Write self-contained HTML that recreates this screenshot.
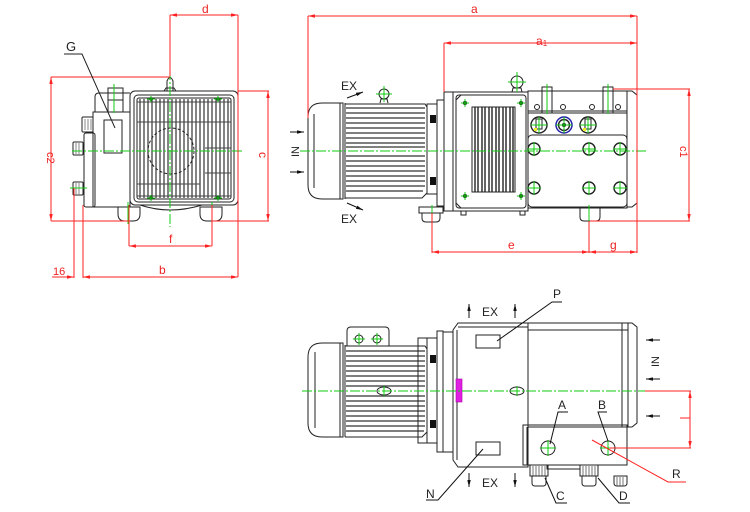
<!DOCTYPE html>
<html><head><meta charset="utf-8"><style>
html,body{margin:0;padding:0;background:#fff;}
svg{display:block;}
text{font-family:"Liberation Sans",sans-serif;}
</style></head><body>
<svg width="750" height="512" viewBox="0 0 750 512" xmlns="http://www.w3.org/2000/svg">
<defs>
<marker id="ar" viewBox="0 0 8 4" refX="8" refY="2" markerWidth="7" markerHeight="3.5" markerUnits="userSpaceOnUse" orient="auto-start-reverse"><path d="M0 0L8 2L0 4z" fill="#f22"/></marker>
<marker id="ab" viewBox="0 0 8 4" refX="8" refY="2" markerWidth="7" markerHeight="3.5" markerUnits="userSpaceOnUse" orient="auto-start-reverse"><path d="M0 0L8 2L0 4z" fill="#111"/></marker>
</defs>
<rect width="750" height="512" fill="#fff"/>

<!-- ================= LEFT VIEW ================= -->
<g fill="none" stroke="#222" stroke-width="1">
  <rect x="130" y="91" width="108" height="114" rx="5"/>
  <rect x="134" y="95" width="100" height="107" rx="4"/>
  <rect x="137" y="98" width="94" height="101" rx="2"/>
  <path stroke="#333" stroke-width="1.2" d="M140 99V198M144 99V198M148 99V198M152 99V198M156 99V198M160 99V198M164 99V198M168 99V198M172 99V198M176 99V198M180 99V198M184 99V198M188 99V198M192 99V198M196 99V198M200 99V198M204 99V198M208 99V198M212 99V198M216 99V198M220 99V198M224 99V198M228 99V198"/>
  <path stroke="#444" d="M137 102H231M137 122H231M137 184H200M205 148H231M205 173H231M137 196H231"/>
  <circle cx="171" cy="151" r="23" stroke-dasharray="3 2"/>
  <path d="M140 205Q170 215 202 205"/>
  <rect x="93" y="112" width="37" height="95"/>
  <path d="M95 112V97Q95 93 99 93H130"/>
  <rect x="108" y="88" width="15" height="24"/>
  <path d="M108 100H123"/>
  <rect x="84" y="133" width="11" height="74" rx="2"/>
  <rect x="82" y="117" width="11" height="15" rx="1"/>
  <path stroke="#555" stroke-width="0.7" d="M85 119V130M88 119V130M91 119V130"/>
  <rect x="73" y="142" width="10" height="13" rx="1"/>
  <path stroke="#555" stroke-width="0.7" d="M76 143V154M79 143V154"/>
  <rect x="73" y="182" width="10" height="13" rx="1"/>
  <path stroke="#555" stroke-width="0.7" d="M76 183V194M79 183V194"/>
  <rect x="104" y="120" width="18" height="33"/>
  <path d="M118 207H140V214Q140 221 133 221H125Q118 221 118 214Z"/>
  <path d="M200 207H222V214Q222 221 215 221H207Q200 221 200 214Z"/>
  <path d="M167 91V81Q170 74 173 81V91"/>
  <path d="M164 91L166 88H174L176 91"/>
</g>
<g fill="#111"><circle cx="151" cy="99" r="1.8"/><circle cx="218" cy="99" r="1.8"/><circle cx="151" cy="198" r="1.8"/><circle cx="218" cy="198" r="1.8"/></g>
<g stroke="#1c1" stroke-width="1" fill="none">
  <path d="M72 151H243" stroke-dasharray="10 2 2 2"/>
  <path d="M170 70V227" stroke-dasharray="10 2 2 2"/>
  <path d="M114 84V113M128 202V224M212 202V224M70 188H87M147 99H155M214 99H222M147 198H155M214 198H222M151 96V102M218 96V102M151 195V201M218 195V201"/>
</g>
<g stroke="#f22" stroke-width="1" fill="none">
  <path d="M170 15H238" marker-start="url(#ar)" marker-end="url(#ar)"/>
  <path d="M170 15V76M238 15V277"/>
  <path d="M51 77H170M51 221H130"/>
  <path d="M51 77V221" marker-start="url(#ar)" marker-end="url(#ar)"/>
  <path d="M238 91H269M212 221H269"/>
  <path d="M268 91V221" marker-start="url(#ar)" marker-end="url(#ar)"/>
  <path d="M129 205V246M212 205V246"/>
  <path d="M129 246H212" marker-start="url(#ar)" marker-end="url(#ar)"/>
  <path d="M83 205V278M74 188V278"/>
  <path d="M83 277H238" marker-start="url(#ar)" marker-end="url(#ar)"/>
  <path d="M52 277H74" marker-end="url(#ar)"/>
</g>
<g fill="#e22" font-size="12">
  <text x="202" y="13">d</text>
  <text x="169" y="243">f</text>
  <text x="159" y="274">b</text>
  <text x="53" y="275" font-size="11">16</text>
  <text transform="translate(47,152) rotate(90)" font-size="11">c2</text>
  <text transform="translate(259,152) rotate(90)" font-size="12">c</text>
</g>
<text x="66" y="51" font-size="13" fill="#222">G</text>
<path d="M64 54H82L115 128" stroke="#222" fill="none"/>

<!-- ================= TOP RIGHT VIEW ================= -->
<g fill="none" stroke="#222" stroke-width="1">
  <path d="M343 103H322Q308 103 308 117V185Q308 199 322 199H343Z"/>
  <path d="M314 114V188"/>
  <path d="M340 103V199M345 103V199"/>
  <path d="M345 104H425L427 107V193L422 198H345"/>
  <path stroke="#333" stroke-width="1.3" d="M346 108H425M346 113H425M346 118H425M346 123H425M346 128H425M346 133H425M346 138H425M346 143H425M346 147H425M346 156H425M346 161H425M346 166H425M346 171H425M346 176H425M346 181H425M346 186H425M346 191H423"/>
  <rect x="427" y="104" width="10" height="90"/>
  <rect x="437" y="100" width="7" height="106"/>
  <rect x="444" y="92" width="9" height="119"/>
  <rect x="453" y="92" width="75" height="119"/>
  <rect x="456" y="95" width="70" height="113" rx="3"/>
  <path d="M456 100L461 95M456 203L461 208"/>
  <rect x="472" y="107" width="43" height="85"/>
  <path stroke="#222" stroke-width="1.4" d="M475 107V192M478 107V192M482 107V192M485 107V192M489 107V192M492 107V192M496 107V192M499 107V192M503 107V192M506 107V192M510 107V192M513 107V192"/>
  <path d="M461 211V215H466V211M520 211V215H525V211"/>
  <path d="M419 207H443V213H419ZM422 213H440V218Q440 222 436 222H426Q422 222 422 218Z"/>
  <circle cx="384" cy="94" r="5"/><path d="M380 103L381 99H387L388 103"/>
  <circle cx="517" cy="82" r="6"/><path d="M512 92L513 88H521L522 92"/>
  <rect x="528" y="91" width="99" height="117"/>
  <path d="M528 111H627M528 113H627"/>
  <rect x="542" y="87" width="10" height="26"/>
  <rect x="603" y="87" width="10" height="26"/>
  <circle cx="537" cy="107" r="2.5"/><circle cx="563" cy="107" r="2.5"/><circle cx="592" cy="107" r="2.5"/><circle cx="618" cy="107" r="2.5"/>
  <circle cx="539" cy="125" r="8" stroke-width="1.4"/><rect x="536" y="119" width="6" height="10"/>
  <circle cx="564" cy="125" r="8" stroke="#22a" stroke-width="1.5"/><circle cx="564" cy="125" r="5.5" stroke-width="1.4"/>
  <circle cx="588" cy="125" r="8" stroke-width="1.4"/><rect x="585" y="119" width="6" height="10"/>
  <rect x="528" y="135" width="99" height="72" rx="4"/>
  <circle cx="534" cy="149" r="6" stroke-width="1.4"/><circle cx="589" cy="149" r="6" stroke-width="1.4"/><circle cx="620" cy="149" r="6" stroke-width="1.4"/>
  <circle cx="534" cy="188" r="6" stroke-width="1.4"/><circle cx="589" cy="188" r="6" stroke-width="1.4"/><circle cx="620" cy="188" r="6" stroke-width="1.4"/>
  <path d="M627 91H632L637 95V203L632 207H627"/>
  <path d="M580 208H600V217Q600 221 596 221H584Q580 221 580 217Z"/>
</g>
<g fill="#111"><circle cx="465" cy="103" r="2"/><circle cx="521" cy="103" r="2"/><circle cx="465" cy="196" r="2"/><circle cx="521" cy="196" r="2"/>
<rect x="430" y="115" width="6" height="8"/><rect x="430" y="177" width="6" height="8"/><circle cx="564" cy="125" r="2"/></g>
<g fill="#ee2"><rect x="534" y="128" width="3" height="3"/><rect x="583" y="128" width="3" height="3"/></g>
<g stroke="#1c1" stroke-width="1" fill="none">
  <path d="M300 151H646" stroke-dasharray="10 2 2 2"/>
  <path d="M384 86V102M376 94H392M517 72V92M508 82H526M547 84V114M608 84V114M432 205V223M589 205V223"/>
  <path d="M527 149H541M534 142V156M582 149H596M589 142V156M613 149H627M620 142V156M527 188H541M534 181V195M582 188H596M589 181V195M613 188H627M620 181V195"/>
  <path d="M461 103H469M465 99V107M517 103H525M521 99V107M461 196H469M465 192V200M517 196H525M521 192V200M531 125H547M539 117V133M556 125H572M564 117V133M580 125H596M588 117V133"/>
</g>
<g stroke="#f22" stroke-width="1" fill="none">
  <path d="M308 16H637" marker-start="url(#ar)" marker-end="url(#ar)"/>
  <path d="M308 16V118M637 16V253"/>
  <path d="M444 43H637" marker-start="url(#ar)" marker-end="url(#ar)"/>
  <path d="M444 43V92"/>
  <path d="M613 89H690M590 221H690"/>
  <path d="M689 89V221" marker-start="url(#ar)" marker-end="url(#ar)"/>
  <path d="M432 213V253M589 221V253"/>
  <path d="M432 252H589" marker-start="url(#ar)" marker-end="url(#ar)"/>
  <path d="M589 252H637" marker-start="url(#ar)" marker-end="url(#ar)"/>
</g>
<g fill="#e22" font-size="12">
  <text x="471" y="13">a</text>
  <text x="536" y="45">a<tspan font-size="8" dy="1">1</tspan></text>
  <text x="508" y="249">e</text>
  <text x="610" y="249">g</text>
  <text transform="translate(680,146) rotate(90)" font-size="11">c1</text>
</g>
<g fill="#222" font-size="12">
  <text x="341" y="90">EX</text>
  <text x="341" y="223">EX</text>
  <text transform="translate(299,157) rotate(-90)" font-size="11">IN</text>
</g>
<g stroke="#111" stroke-width="1" fill="none">
  <path d="M347 98L363 92" marker-end="url(#ab)"/>
  <path d="M347 203L363 210" marker-end="url(#ab)"/>
  <path d="M290 132H304" marker-end="url(#ab)"/>
  <path d="M290 172H304" marker-end="url(#ab)"/>
</g>

<!-- ================= BOTTOM VIEW ================= -->
<g fill="none" stroke="#222" stroke-width="1">
  <path d="M343 343H322Q308 343 308 357V423Q308 437 322 437H343Z"/>
  <path d="M315 352V428"/>
  <path d="M340 343V437M345 345V437"/>
  <path d="M345 346H425L427 349V432L422 437H345"/>
  <path stroke="#333" stroke-width="1.3" d="M346 351H425M346 356H425M346 361H425M346 366H425M346 371H425M346 376H425M346 381H425M346 386H425M346 396H425M346 401H425M346 406H425M346 411H425M346 416H425M346 421H425M346 426H425M346 431H424"/>
  <path d="M347 346V331Q347 327 351 327H385Q389 327 389 331V346"/>
  <circle cx="359" cy="339" r="4"/><circle cx="377" cy="339" r="4"/>
  <rect x="418" y="338" width="19" height="105"/>
  <path d="M427 338V443"/>
  <rect x="437" y="331" width="6" height="121"/>
  <rect x="443" y="332" width="10" height="120"/>
  <path d="M453 330L458 323H528V467H458L453 460Z"/>
  <path d="M457 330V460M458 327H528"/>
  <rect x="476" y="335" width="24" height="13"/>
  <rect x="476" y="442" width="24" height="13"/>
  <ellipse cx="384" cy="391" rx="7" ry="4"/>
  <ellipse cx="517" cy="391" rx="7" ry="4"/>
  <rect x="528" y="323" width="100" height="104"/>
  <path d="M528 330H628M622 323V427"/>
  <path d="M628 323H632L637 327V423L632 427H628"/>
  <path d="M523 425H627V465H523Z"/>
  <path d="M523 428V462M527 427V465"/>
  <circle cx="548" cy="448" r="7"/>
  <circle cx="608" cy="448" r="7"/>
  <path d="M547 465V469H580V465"/>
  <rect x="530" y="465" width="18" height="11"/>
  <path stroke="#555" stroke-width="0.8" d="M533 466V476M536 466V476M539 466V476M542 466V476M545 466V476"/>
  <path d="M532 476H546V483Q546 486 543 486H535Q532 486 532 483Z"/>
  <rect x="580" y="465" width="18" height="11"/>
  <path stroke="#555" stroke-width="0.8" d="M583 466V476M586 466V476M589 466V476M592 466V476M595 466V476"/>
  <path d="M582 476H596V483Q596 486 593 486H585Q582 486 582 483Z"/>
  <path d="M614 476H627V483Q627 486 624 486H617Q614 486 614 483Z"/>
  <path stroke="#555" stroke-width="0.8" d="M617 477V486M620 477V486M623 477V486"/>
</g>
<g fill="#111"><rect x="430" y="355" width="6" height="8"/><rect x="430" y="420" width="6" height="8"/></g>
<rect x="456" y="379" width="6" height="23" fill="#e020e0" stroke="#a0a" stroke-width="0.6"/>
<g stroke="#1c1" stroke-width="1" fill="none">
  <path d="M302 391H645" stroke-dasharray="10 2 2 2"/>
  <path d="M353 339H365M359 333V345M371 339H383M377 333V345M384 386V396M517 386V396M540 448H556M548 440V456M600 448H616M608 440V456"/>
</g>
<g stroke="#f22" stroke-width="1" fill="none">
  <path d="M645 391H691M610 448H691"/>
  <path d="M690 391V448" marker-start="url(#ar)" marker-end="url(#ar)"/>
  <path d="M680 418H690"/>
  <path d="M592 440L668 482H686"/>
</g>
<g fill="#222" font-size="12">
  <text x="482" y="316">EX</text>
  <text x="482" y="487">EX</text>
  <text transform="translate(659,367) rotate(-90)" font-size="11">IN</text>
  <text x="553" y="298" font-size="12">P</text>
  <text x="426" y="498" font-size="12">N</text>
  <text x="558" y="409" font-size="12">A</text>
  <text x="598" y="409" font-size="12">B</text>
  <text x="556" y="500" font-size="12">C</text>
  <text x="619" y="500" font-size="12">D</text>
  <text x="672" y="478" font-size="12">R</text>
</g>
<g stroke="#111" stroke-width="1" fill="none">
  <path d="M469 318V304" marker-end="url(#ab)"/>
  <path d="M515 318V304" marker-end="url(#ab)"/>
  <path d="M469 473V487" marker-end="url(#ab)"/>
  <path d="M515 473V487" marker-end="url(#ab)"/>
  <path d="M660 340H646" marker-end="url(#ab)"/>
  <path d="M660 379H646" marker-end="url(#ab)"/>
  <path d="M660 416H646" marker-end="url(#ab)"/>
  <path d="M562 302H552L497 341"/>
  <path d="M426 500H438L483 449"/>
  <path d="M568 412H558L550 444"/>
  <path d="M607 412H598L608 441"/>
  <path d="M567 503H556L545 478"/>
  <path d="M630 503H619L598 478"/>
</g>
</svg>
</body></html>
